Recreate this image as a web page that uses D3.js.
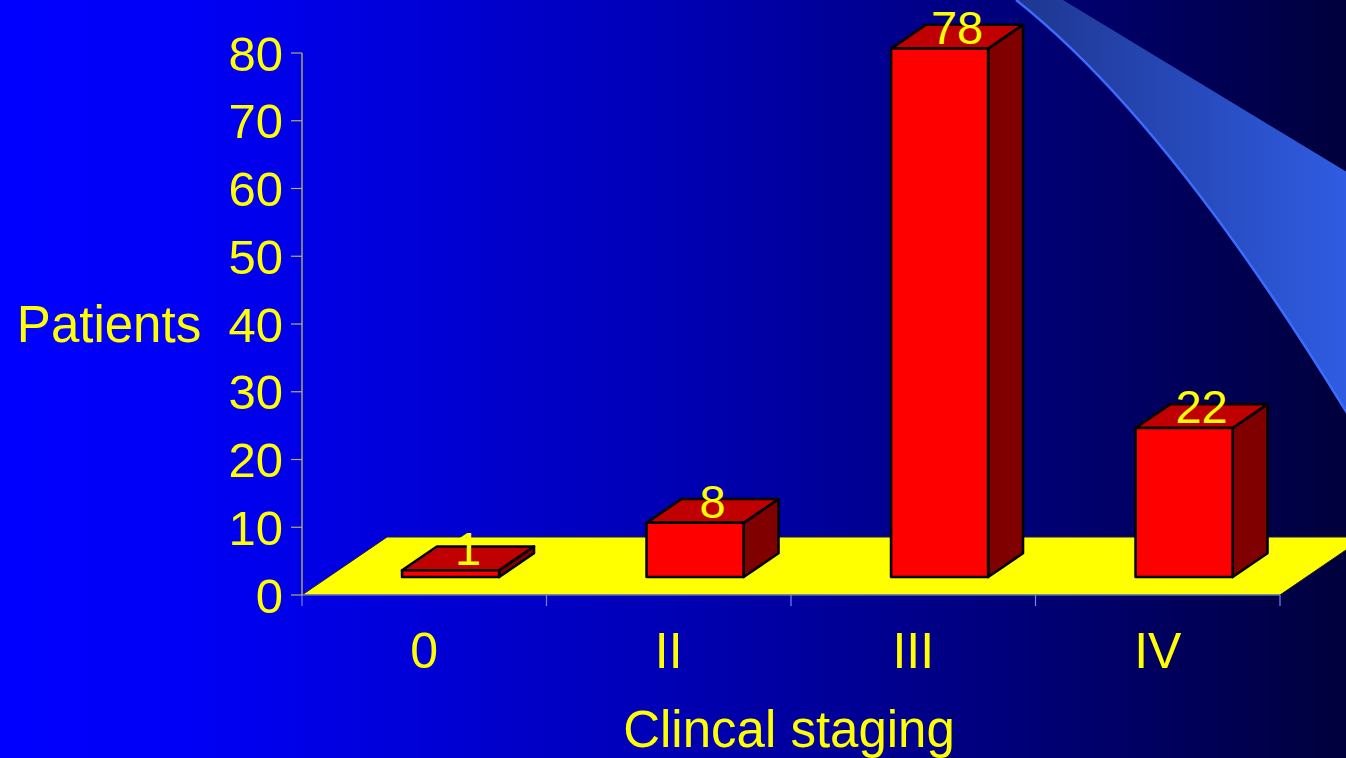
<!DOCTYPE html>
<html>
<head>
<meta charset="utf-8">
<script src="https://cdn.jsdelivr.net/npm/d3@7"></script>
<style>
  html, body { margin: 0; padding: 0; background: #000080; }
  svg { display: block; }
  text { font-family: "Liberation Sans", Arial, sans-serif; fill: #ffff00; }
</style>
</head>
<body>
<svg id="chart" width="1346" height="758"></svg>
<script>
// Patients by clinical stage
const categories = ["0", "II", "III", "IV"];
const patients = [1, 8, 78, 22];
const yTicks = [0, 10, 20, 30, 40, 50, 60, 70, 80];
const yTitle = "Patients";
const xTitle = "Clincal staging";

const W = 1346, H = 758;
const svg = d3.select("#chart");
const defs = svg.append("defs");

// backdrop gradient, bright blue fading to navy
const bg = defs.append("linearGradient").attr("id", "bg").attr("x1", 0).attr("x2", 1).attr("y1", 0).attr("y2", 0);
[[0, "#0000ff"], [0.14, "#0000f6"], [0.5, "#0000b4"], [0.8, "#00006e"], [1, "#00003c"]]
  .forEach(([o, c]) => bg.append("stop").attr("offset", o).attr("stop-color", c));
svg.append("rect").attr("width", W).attr("height", H).attr("fill", "url(#bg)");

// decorative swoosh in the top-right corner
const sw = defs.append("linearGradient").attr("id", "sw").attr("gradientUnits", "userSpaceOnUse")
  .attr("x1", 1018).attr("x2", 1346).attr("y1", 0).attr("y2", 0);
sw.append("stop").attr("offset", 0).attr("stop-color", "#1e3690");
sw.append("stop").attr("offset", 1).attr("stop-color", "#2f5ce2");
const arcPath = d3.path();
arcPath.moveTo(1016, 0);
arcPath.quadraticCurveTo(1169, 121, 1350, 418);
svg.append("path")
  .attr("d", arcPath.toString() + "L1350,174L1063,0Z")
  .attr("fill", "url(#sw)");
svg.append("path")
  .attr("d", arcPath.toString())
  .attr("fill", "none").attr("stroke", "#3b6cff").attr("stroke-width", 2.5);

// scales
const x = d3.scaleBand().domain(categories).range([302, 1280]).padding(0);
const y = d3.scaleLinear().domain([0, 80]).range([595, 53]);

// 3D depth of the floor, and the slab occupied by the columns
const depth = { dx: 85, dy: 58 };
const fFront = 0.31, fBack = 0.72;
const barRatio = 0.397;

// floor
const x0 = x.range()[0], x1 = x.range()[1], yb = y(0);
svg.append("path")
  .attr("d", `M${x0},${yb}L${x1},${yb}L${x1 + depth.dx},${yb - depth.dy}L${x0 + depth.dx},${yb - depth.dy}Z`)
  .attr("fill", "#ffff00").attr("stroke", "#1a1a40").attr("stroke-width", 1);

// category axis
const xAxis = svg.append("g");
xAxis.append("line").attr("x1", x0).attr("x2", x1).attr("y1", yb).attr("y2", yb)
  .attr("stroke", "#7088ff").attr("stroke-width", 1.2);
const bounds = categories.map(c => x(c)).concat([x1]);
xAxis.selectAll("line.tick").data(bounds).join("line").attr("class", "tick")
  .attr("x1", d => d).attr("x2", d => d).attr("y1", yb).attr("y2", yb + 11)
  .attr("stroke", "#7088ff").attr("stroke-width", 1.2);
xAxis.selectAll("text").data(categories).join("text")
  .attr("x", d => x(d) + x.bandwidth() / 2).attr("y", 668)
  .attr("text-anchor", "middle").attr("font-size", 50).text(d => d);

// value axis
const yAxis = svg.append("g");
yAxis.append("line").attr("x1", x0).attr("x2", x0).attr("y1", y(80)).attr("y2", yb)
  .attr("stroke", "#d4d43c").attr("stroke-width", 1.2);
yAxis.selectAll("line.tick").data(yTicks).join("line").attr("class", "tick")
  .attr("x1", x0 - 11).attr("x2", x0).attr("y1", d => y(d)).attr("y2", d => y(d))
  .attr("stroke", "#b0b070").attr("stroke-width", 1.2);
yAxis.selectAll("text").data(yTicks).join("text")
  .attr("x", 283).attr("y", d => y(d)).attr("dy", "0.36em")
  .attr("text-anchor", "end").attr("font-size", 49).text(d => d);

// columns
const bw = x.bandwidth() * barRatio;
const fdx = depth.dx * fFront, fdy = depth.dy * fFront;
const bdx = depth.dx * (fBack - fFront), bdy = depth.dy * (fBack - fFront);
const bars = svg.append("g").attr("stroke", "#000").attr("stroke-width", 2.6).attr("stroke-linejoin", "round");
const barData = categories.map((c, i) => {
  const left = x(c) + (x.bandwidth() - bw) / 2 + fdx;
  return { c, v: patients[i], left, right: left + bw, top: y(patients[i]) - fdy, bot: y(0) - fdy };
});
barData.forEach(b => {
  const g = bars.append("g");
  g.append("path").attr("fill", "#800000")
    .attr("d", `M${b.right},${b.top}L${b.right + bdx},${b.top - bdy}L${b.right + bdx},${b.bot - bdy}L${b.right},${b.bot}Z`);
  g.append("path").attr("fill", "#c00000")
    .attr("d", `M${b.left},${b.top}L${b.right},${b.top}L${b.right + bdx},${b.top - bdy}L${b.left + bdx},${b.top - bdy}Z`);
  g.append("rect").attr("fill", "#ff0000")
    .attr("x", b.left).attr("y", b.top).attr("width", bw).attr("height", b.bot - b.top);
});

// value labels on the column tops
svg.append("g").selectAll("text").data(barData).join("text")
  .attr("x", d => (d.left + d.right) / 2 + bdx / 2)
  .attr("y", d => d.top - 5)
  .attr("text-anchor", "middle").attr("font-size", 47).text(d => d.v);

// axis titles
svg.append("text").attr("x", 109).attr("y", 342).attr("text-anchor", "middle")
  .attr("font-size", 51).text(yTitle);
svg.append("text").attr("x", 789).attr("y", 747).attr("text-anchor", "middle")
  .attr("font-size", 51).text(xTitle);
</script>
</body>
</html>
